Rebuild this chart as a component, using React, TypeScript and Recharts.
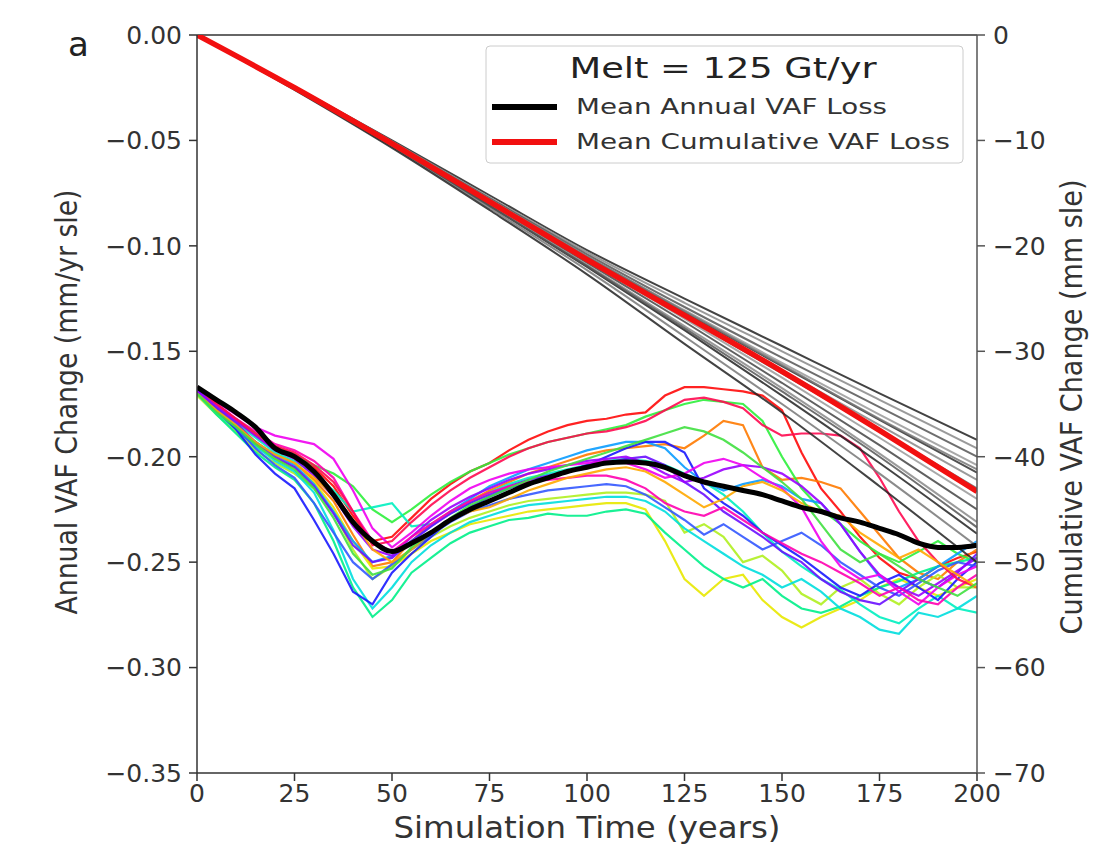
import React from 'react';
import { LineChart, Line, XAxis, YAxis, ReferenceLine } from 'recharts';

// simulation years (every 5 yr) for the annual series
const years = [
  0, 5, 10, 15, 20, 25, 30, 35, 40, 45, 50, 55, 60, 65, 70, 75, 80, 85, 90, 95, 100,
  105, 110, 115, 120, 125, 130, 135, 140, 145, 150, 155, 160, 165, 170, 175, 180, 185, 190, 195, 200,
];
// cumulative series are sampled every 25 yr
const cumYears = [0, 25, 50, 75, 100, 125, 150, 175, 200];

const xTicks = [0, 25, 50, 75, 100, 125, 150, 175, 200];
const leftTicks = [-0.35, -0.3, -0.25, -0.2, -0.15, -0.1, -0.05, 0];
const rightTicks = [-70, -60, -50, -40, -30, -20, -10, 0];

// mean annual VAF change (mm/yr sle)
const meanAnnual = [
  -0.167, -0.173, -0.179, -0.186, -0.196, -0.2, -0.207, -0.218, -0.231, -0.24, -0.245,
  -0.241, -0.236, -0.23, -0.225, -0.221, -0.217, -0.213, -0.21, -0.207, -0.205,
  -0.203, -0.2025, -0.203, -0.205, -0.209, -0.212, -0.214, -0.216, -0.218, -0.221,
  -0.224, -0.226, -0.229, -0.231, -0.234, -0.237, -0.241, -0.243, -0.243, -0.242,
];

// mean cumulative VAF change (mm sle)
const meanCumulative = [0, -5.0, -10.3, -15.8, -21.3, -26.6, -31.9, -37.5, -43.3];

// individual ensemble members, annual change
const run01 = [-0.168, -0.176, -0.183, -0.19, -0.196, -0.199, -0.205, -0.214, -0.228, -0.24, -0.238, -0.229, -0.22, -0.213, -0.207, -0.203, -0.197, -0.192, -0.188, -0.185, -0.183, -0.182, -0.18, -0.179, -0.171, -0.167, -0.167, -0.168, -0.169, -0.171, -0.178, -0.198, -0.215, -0.226, -0.238, -0.248, -0.255, -0.258, -0.252, -0.248, -0.245];
const run02 = [-0.17, -0.178, -0.186, -0.194, -0.199, -0.203, -0.211, -0.221, -0.237, -0.252, -0.25, -0.24, -0.232, -0.226, -0.221, -0.216, -0.212, -0.208, -0.205, -0.202, -0.199, -0.197, -0.196, -0.195, -0.194, -0.196, -0.19, -0.183, -0.185, -0.205, -0.211, -0.21, -0.212, -0.215, -0.226, -0.237, -0.248, -0.255, -0.258, -0.25, -0.244];
const run03 = [-0.17, -0.179, -0.187, -0.195, -0.201, -0.205, -0.212, -0.224, -0.24, -0.253, -0.252, -0.246, -0.24, -0.236, -0.232, -0.23, -0.228, -0.226, -0.225, -0.224, -0.223, -0.222, -0.222, -0.225, -0.24, -0.258, -0.266, -0.258, -0.256, -0.268, -0.276, -0.281, -0.276, -0.272, -0.268, -0.262, -0.258, -0.262, -0.266, -0.262, -0.258];
const run04 = [-0.171, -0.18, -0.188, -0.197, -0.203, -0.208, -0.215, -0.226, -0.244, -0.258, -0.252, -0.244, -0.238, -0.233, -0.229, -0.226, -0.223, -0.221, -0.22, -0.219, -0.218, -0.217, -0.217, -0.218, -0.221, -0.236, -0.232, -0.238, -0.25, -0.247, -0.254, -0.265, -0.27, -0.262, -0.258, -0.265, -0.27, -0.262, -0.256, -0.262, -0.262];
const run05 = [-0.169, -0.176, -0.182, -0.189, -0.195, -0.199, -0.204, -0.208, -0.214, -0.225, -0.231, -0.225, -0.218, -0.212, -0.207, -0.203, -0.199, -0.196, -0.193, -0.191, -0.189, -0.187, -0.185, -0.181, -0.178, -0.175, -0.173, -0.174, -0.175, -0.183, -0.2, -0.215, -0.225, -0.232, -0.24, -0.246, -0.25, -0.245, -0.24, -0.246, -0.25];
const run06 = [-0.17, -0.18, -0.189, -0.198, -0.205, -0.211, -0.222, -0.24, -0.262, -0.276, -0.268, -0.255, -0.248, -0.241, -0.236, -0.233, -0.23, -0.229, -0.227, -0.228, -0.228, -0.226, -0.225, -0.227, -0.236, -0.244, -0.252, -0.258, -0.262, -0.258, -0.266, -0.272, -0.274, -0.271, -0.266, -0.262, -0.259, -0.255, -0.252, -0.25, -0.248];
const run07 = [-0.17, -0.179, -0.187, -0.195, -0.202, -0.207, -0.217, -0.235, -0.258, -0.272, -0.262, -0.25, -0.242, -0.236, -0.231, -0.228, -0.225, -0.223, -0.222, -0.221, -0.22, -0.219, -0.219, -0.221, -0.226, -0.234, -0.24, -0.246, -0.252, -0.256, -0.262, -0.258, -0.264, -0.272, -0.276, -0.282, -0.284, -0.274, -0.276, -0.272, -0.266];
const run08 = [-0.169, -0.177, -0.184, -0.191, -0.198, -0.202, -0.208, -0.216, -0.226, -0.224, -0.222, -0.233, -0.232, -0.227, -0.222, -0.217, -0.213, -0.21, -0.208, -0.206, -0.204, -0.202, -0.201, -0.202, -0.204, -0.208, -0.212, -0.218, -0.226, -0.236, -0.245, -0.252, -0.258, -0.263, -0.27, -0.276, -0.279, -0.272, -0.266, -0.272, -0.274];
const run09 = [-0.168, -0.177, -0.185, -0.193, -0.199, -0.204, -0.213, -0.226, -0.24, -0.25, -0.247, -0.24, -0.233, -0.226, -0.22, -0.214, -0.21, -0.206, -0.203, -0.2, -0.197, -0.195, -0.193, -0.193, -0.196, -0.205, -0.212, -0.216, -0.213, -0.211, -0.214, -0.22, -0.222, -0.232, -0.245, -0.257, -0.262, -0.258, -0.252, -0.246, -0.24];
const run10 = [-0.168, -0.178, -0.187, -0.199, -0.208, -0.215, -0.23, -0.246, -0.264, -0.27, -0.255, -0.246, -0.238, -0.23, -0.224, -0.219, -0.215, -0.212, -0.21, -0.207, -0.204, -0.2, -0.196, -0.193, -0.193, -0.198, -0.215, -0.222, -0.228, -0.236, -0.242, -0.248, -0.255, -0.262, -0.266, -0.26, -0.256, -0.262, -0.268, -0.258, -0.25];
const run11 = [-0.169, -0.178, -0.186, -0.196, -0.204, -0.21, -0.222, -0.236, -0.25, -0.258, -0.251, -0.244, -0.237, -0.231, -0.226, -0.223, -0.22, -0.218, -0.216, -0.215, -0.214, -0.213, -0.214, -0.218, -0.224, -0.23, -0.237, -0.232, -0.238, -0.244, -0.24, -0.236, -0.242, -0.25, -0.256, -0.262, -0.266, -0.26, -0.254, -0.25, -0.252];
const run12 = [-0.168, -0.177, -0.184, -0.193, -0.2, -0.205, -0.214, -0.227, -0.242, -0.25, -0.248, -0.24, -0.233, -0.227, -0.222, -0.218, -0.214, -0.211, -0.209, -0.207, -0.205, -0.203, -0.201, -0.2, -0.204, -0.212, -0.218, -0.226, -0.232, -0.238, -0.245, -0.25, -0.258, -0.264, -0.268, -0.27, -0.264, -0.258, -0.262, -0.255, -0.246];
const run13 = [-0.169, -0.176, -0.183, -0.19, -0.197, -0.201, -0.209, -0.219, -0.233, -0.244, -0.247, -0.238, -0.23, -0.224, -0.219, -0.215, -0.211, -0.208, -0.206, -0.204, -0.202, -0.201, -0.2, -0.203, -0.208, -0.212, -0.21, -0.206, -0.204, -0.205, -0.208, -0.214, -0.222, -0.232, -0.245, -0.256, -0.262, -0.266, -0.26, -0.254, -0.248];
const run14 = [-0.167, -0.174, -0.18, -0.186, -0.19, -0.192, -0.194, -0.201, -0.216, -0.234, -0.243, -0.236, -0.228, -0.221, -0.215, -0.211, -0.208, -0.206, -0.205, -0.204, -0.203, -0.202, -0.203, -0.206, -0.21, -0.208, -0.203, -0.201, -0.204, -0.21, -0.215, -0.224, -0.24, -0.252, -0.258, -0.256, -0.264, -0.27, -0.262, -0.256, -0.252];
const run15 = [-0.167, -0.175, -0.182, -0.188, -0.194, -0.197, -0.202, -0.21, -0.226, -0.24, -0.245, -0.238, -0.232, -0.226, -0.221, -0.217, -0.214, -0.212, -0.211, -0.21, -0.209, -0.209, -0.211, -0.215, -0.222, -0.226, -0.228, -0.224, -0.23, -0.236, -0.241, -0.246, -0.25, -0.255, -0.26, -0.266, -0.262, -0.268, -0.27, -0.262, -0.256];
const run16 = [-0.167, -0.175, -0.182, -0.189, -0.195, -0.198, -0.204, -0.212, -0.226, -0.242, -0.24, -0.231, -0.223, -0.216, -0.21, -0.205, -0.2, -0.196, -0.193, -0.191, -0.189, -0.188, -0.186, -0.183, -0.178, -0.173, -0.172, -0.174, -0.177, -0.185, -0.19, -0.189, -0.189, -0.19, -0.196, -0.21, -0.226, -0.24, -0.25, -0.258, -0.262];
const run17 = [-0.17, -0.178, -0.185, -0.193, -0.199, -0.203, -0.21, -0.218, -0.23, -0.244, -0.25, -0.244, -0.236, -0.23, -0.226, -0.224, -0.22, -0.216, -0.213, -0.21, -0.208, -0.206, -0.205, -0.207, -0.212, -0.218, -0.224, -0.22, -0.214, -0.212, -0.216, -0.222, -0.226, -0.228, -0.236, -0.242, -0.248, -0.244, -0.25, -0.256, -0.262];
const run18 = [-0.17, -0.179, -0.186, -0.194, -0.201, -0.206, -0.215, -0.229, -0.246, -0.256, -0.253, -0.243, -0.236, -0.229, -0.223, -0.219, -0.215, -0.211, -0.207, -0.204, -0.201, -0.198, -0.195, -0.192, -0.189, -0.186, -0.188, -0.192, -0.198, -0.205, -0.212, -0.22, -0.232, -0.244, -0.25, -0.246, -0.252, -0.258, -0.262, -0.266, -0.26];

const runs = [run01, run02, run03, run04, run05, run06, run07, run08, run09, run10, run11, run12, run13, run14, run15, run16, run17, run18];
const runColors = [
  '#ff0a0a', '#ff7a00', '#e8e800', '#b0f020', '#2ef03c', '#00f08a', '#00dede', '#00f0c0', '#0a9cff',
  '#1a1aff', '#3358ff', '#6a10ff', '#9a00ff', '#f000f0', '#ff00b0', '#ff0a50', '#ffa800', '#40e040',
];

// individual ensemble members, cumulative change (mm sle)
const cum01 = [0, -4.9, -10.0, -15.2, -20.4, -25.0, -29.5, -34.0, -38.4];
const cum02 = [0, -4.9, -10.1, -15.4, -20.6, -25.4, -30.0, -34.6, -39.2];
const cum03 = [0, -5.0, -10.2, -15.5, -20.8, -25.8, -30.6, -35.3, -40.0];
const cum04 = [0, -5.0, -10.2, -15.6, -21.0, -26.1, -31.1, -36.0, -40.8];
const cum05 = [0, -5.0, -10.3, -15.7, -21.1, -26.3, -31.4, -36.5, -41.5];
const cum06 = [0, -5.0, -10.3, -15.8, -21.2, -26.5, -31.8, -37.0, -42.2];
const cum07 = [0, -5.0, -10.3, -15.8, -21.3, -26.7, -32.1, -37.5, -43.0];
const cum08 = [0, -5.0, -10.4, -15.9, -21.4, -26.9, -32.5, -38.2, -44.0];
const cum09 = [0, -5.1, -10.4, -16.0, -21.6, -27.2, -33.0, -38.9, -45.0];
const cum10 = [0, -5.1, -10.5, -16.1, -21.8, -27.6, -33.5, -39.7, -46.2];
const cum11 = [0, -5.1, -10.5, -16.2, -22.0, -28.0, -34.2, -40.6, -47.3];
const cum12 = [0, -5.1, -10.6, -16.4, -22.3, -28.6, -35.0, -41.6, -48.5];
const cum13 = [0, -5.2, -10.7, -16.6, -22.7, -29.3, -35.8, -42.8, -50.0];
const cum14 = [0, -5.0, -10.2, -15.6, -21.0, -26.2, -31.3, -36.4, -41.2];
const cum15 = [0, -5.1, -10.5, -16.2, -21.9, -27.8, -33.8, -40.0, -46.7];

const cumRuns = [cum01, cum02, cum03, cum04, cum05, cum06, cum07, cum08, cum09, cum10, cum11, cum12, cum13, cum14, cum15];
const cumColors = ['#222', '#888', '#555', '#999', '#333', '#888', '#666', '#999', '#444', '#888', '#222', '#777', '#222', '#777', '#555'];

const rows = years.map((t, i) => {
  const row: Record<string, number> = { t, mean: meanAnnual[i] };
  runs.forEach((r, k) => { row['r' + k] = r[i]; });
  const j = cumYears.indexOf(t);
  if (j >= 0) {
    row.cum = meanCumulative[j];
    cumRuns.forEach((c, k) => { row['c' + k] = c[j]; });
  }
  return row;
});

const FONT = 'DejaVu Sans, Verdana, sans-serif';
const minus = (s: string) => s.replace('-', '\u2212');

const App = () => {
  return (
    <div style={{ position: 'absolute', left: 0, top: 0, width: 1119, height: 867, background: '#fff' }}>
      <LineChart width={1119} height={867} data={rows} margin={{ top: 35, right: 0, bottom: 0, left: 0 }}>
        <XAxis
          dataKey="t"
          type="number"
          domain={[0, 200]}
          ticks={xTicks}
          interval={0}
          allowDataOverflow
          height={94}
          tickSize={8}
          tickMargin={3}
          stroke="#333"
          strokeWidth={1.5}
          tick={{ fill: '#333', fontSize: 25, fontFamily: FONT }}
          label={{
            content: () => (
              <text x={587} y={838} textAnchor="middle" fontSize={30} fontFamily={FONT} fill="#333" textLength={387} lengthAdjust="spacingAndGlyphs">
                Simulation Time (years)
              </text>
            ),
          }}
        />
        <YAxis
          yAxisId="left"
          width={197}
          domain={[-0.35, 0]}
          ticks={leftTicks}
          interval={0}
          allowDataOverflow
          tickSize={8}
          tickMargin={7}
          stroke="#333"
          strokeWidth={1.5}
          tick={{ fill: '#333', fontSize: 25, fontFamily: FONT }}
          tickFormatter={(v: number) => minus(v.toFixed(2))}
          label={{
            content: () => (
              <text x={77} y={402} transform="rotate(-90 77 402)" textAnchor="middle" fontSize={30} fontFamily={FONT} fill="#333" textLength={425} lengthAdjust="spacingAndGlyphs">
                Annual VAF Change (mm/yr sle)
              </text>
            ),
          }}
        />
        <YAxis
          yAxisId="right"
          orientation="right"
          width={142}
          domain={[-70, 0]}
          ticks={rightTicks}
          interval={0}
          allowDataOverflow
          tickSize={8}
          tickMargin={8}
          stroke="#555"
          strokeWidth={1.5}
          tick={{ fill: '#333', fontSize: 25, fontFamily: FONT }}
          tickFormatter={(v: number) => minus(String(v))}
          label={{
            content: () => (
              <text x={1082} y={407} transform="rotate(-90 1082 407)" textAnchor="middle" fontSize={30} fontFamily={FONT} fill="#333" textLength={455} lengthAdjust="spacingAndGlyphs">
                Cumulative VAF Change (mm sle)
              </text>
            ),
          }}
        />
        <ReferenceLine yAxisId="left" y={0} stroke="#333" strokeWidth={1.5} />

        {runs.map((_, k) => (
          <Line
            key={'r' + k}
            yAxisId="left"
            type="linear"
            dataKey={'r' + k}
            stroke={runColors[k]}
            strokeWidth={2.2}
            strokeOpacity={0.9}
            dot={false}
            isAnimationActive={false}
          />
        ))}
        {cumRuns.map((_, k) => (
          <Line
            key={'c' + k}
            yAxisId="right"
            type="monotone"
            dataKey={'c' + k}
            stroke={cumColors[k]}
            strokeWidth={2}
            strokeOpacity={0.85}
            dot={false}
            connectNulls
            isAnimationActive={false}
          />
        ))}
        <Line yAxisId="left" type="monotone" dataKey="mean" stroke="#000" strokeWidth={5} dot={false} isAnimationActive={false} />
        <Line yAxisId="right" type="monotone" dataKey="cum" stroke="#f21010" strokeWidth={5.5} dot={false} connectNulls isAnimationActive={false} />
      </LineChart>

      <svg width={1119} height={867} style={{ position: 'absolute', left: 0, top: 0, pointerEvents: 'none' }}>
        <text x={68} y={56} fontSize={34} fontFamily={FONT} fill="#222">a</text>
        <rect x={486} y={46} width={477} height={117} rx={4} fill="#fff" fillOpacity={0.9} stroke="#ccc" />
        <text x={723} y={78} textAnchor="middle" fontSize={28} fontFamily={FONT} fill="#222" textLength={307} lengthAdjust="spacingAndGlyphs">
          Melt = 125 Gt/yr
        </text>
        <line x1={492} x2={557} y1={107} y2={107} stroke="#000" strokeWidth={6} />
        <text x={576} y={114} fontSize={22} fontFamily={FONT} fill="#333" textLength={311} lengthAdjust="spacingAndGlyphs">
          Mean Annual VAF Loss
        </text>
        <line x1={492} x2={557} y1={142} y2={142} stroke="#f21010" strokeWidth={6} />
        <text x={576} y={149} fontSize={22} fontFamily={FONT} fill="#333" textLength={374} lengthAdjust="spacingAndGlyphs">
          Mean Cumulative VAF Loss
        </text>
      </svg>
    </div>
  );
};

export default App;
